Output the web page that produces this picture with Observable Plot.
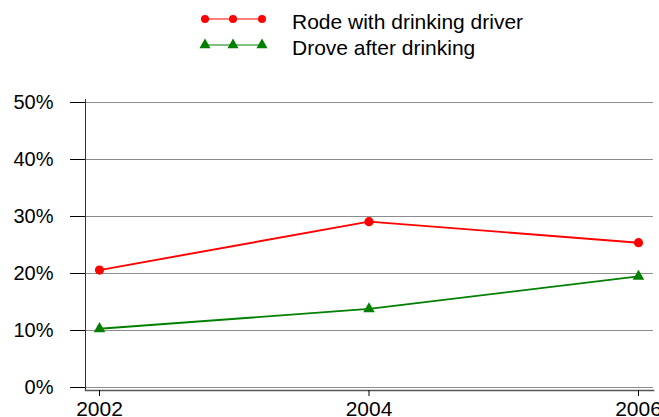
<!DOCTYPE html>
<html>
<head>
<meta charset="utf-8">
<script src="https://cdn.jsdelivr.net/npm/d3@7"></script>
<script src="https://cdn.jsdelivr.net/npm/@observablehq/plot@0.6"></script>
<style>
  html, body { margin: 0; padding: 0; background: #fff; }
  body { width: 659px; height: 417px; overflow: hidden; font-family: "Liberation Sans", Arial, sans-serif; }
  #legend { position: relative; height: 70px; }
  #legend svg { position: absolute; left: 195px; }
  #legend span { position: absolute; left: 292px; font-size: 21px; line-height: 20px; white-space: nowrap; color: #000; }
</style>
</head>
<body>
<div id="legend"></div>
<div id="chart"></div>
<script>
const years = [2002, 2004, 2006];
const rodeWithDrinkingDriver = [20.6, 29.1, 25.4];
const droveAfterDrinking = [10.3, 13.8, 19.5];
const seriesNames = ["Rode with drinking driver", "Drove after drinking"];
const seriesColors = ["#ff0000", "#008000"];
const seriesSymbols = ["circle", "triangle"];
const yTicks = [0, 10, 20, 30, 40, 50];

const data = [];
years.forEach((yr, i) => {
  data.push({year: yr, value: rodeWithDrinkingDriver[i], series: seriesNames[0]});
  data.push({year: yr, value: droveAfterDrinking[i], series: seriesNames[1]});
});

// Legend (HTML above the chart)
const legend = document.getElementById("legend");
const rowCenters = [19, 44.5];
seriesNames.forEach((name, i) => {
  const sym = d3.symbol(i === 0 ? d3.symbolCircle : d3.symbolTriangle, i === 0 ? Math.PI * 16 : Math.PI * 17)();
  const xs = [10, 38, 67];
  const svg = document.createElement("div");
  svg.innerHTML = `<svg width="80" height="20" style="top:${rowCenters[i] - 10}px"><line x1="10" x2="67" y1="10" y2="10" stroke="${seriesColors[i]}" stroke-width="1"/>` +
    xs.map(x => `<path transform="translate(${x},10)" d="${sym}" fill="${seriesColors[i]}"/>`).join("") +
    `</svg>`;
  legend.appendChild(svg.firstChild);
  const span = document.createElement("span");
  span.textContent = name;
  span.style.top = (rowCenters[i] - 7) + "px";
  legend.appendChild(span);
});

const chart = Plot.plot({
  width: 659,
  height: 347,
  marginLeft: 85,
  marginRight: 6,
  marginTop: 29,
  marginBottom: 27,
  style: {fontFamily: "Liberation Sans, Arial, sans-serif", fontSize: "20px", color: "#000", background: "#fff"},
  x: {domain: [2002, 2006], range: [99, 638]},
  y: {domain: [0, 50], range: [317, 32]},
  color: {domain: seriesNames, range: seriesColors},
  symbol: {domain: seriesNames, range: seriesSymbols},
  marks: [
    Plot.ruleY(yTicks, {stroke: "#8c8c8c", strokeWidth: 1}),
    Plot.frame({anchor: "left", stroke: "#333", strokeWidth: 1}),
    Plot.frame({anchor: "bottom", stroke: "#555", strokeWidth: 1.5}),
    Plot.axisY({ticks: yTicks, tickSize: 15, tickPadding: 17, tickFormat: d => d + "%", label: null, stroke: "#000", fontSize: 20}),
    Plot.axisX({ticks: years, tickSize: 6, tickPadding: 5, tickFormat: d => String(d), label: null, stroke: "#000", fontSize: 21}),
    Plot.line(data, {x: "year", y: "value", z: "series", stroke: "series", strokeWidth: 1.9}),
    Plot.dot(data.filter(d => d.series === seriesNames[0]), {x: "year", y: "value", fill: "series", symbol: "series", r: 4.6}),
    Plot.dot(data.filter(d => d.series === seriesNames[1]), {x: "year", y: "value", fill: "series", symbol: "series", r: 4.3})
  ]
});
document.getElementById("chart").appendChild(chart);
</script>
</body>
</html>
